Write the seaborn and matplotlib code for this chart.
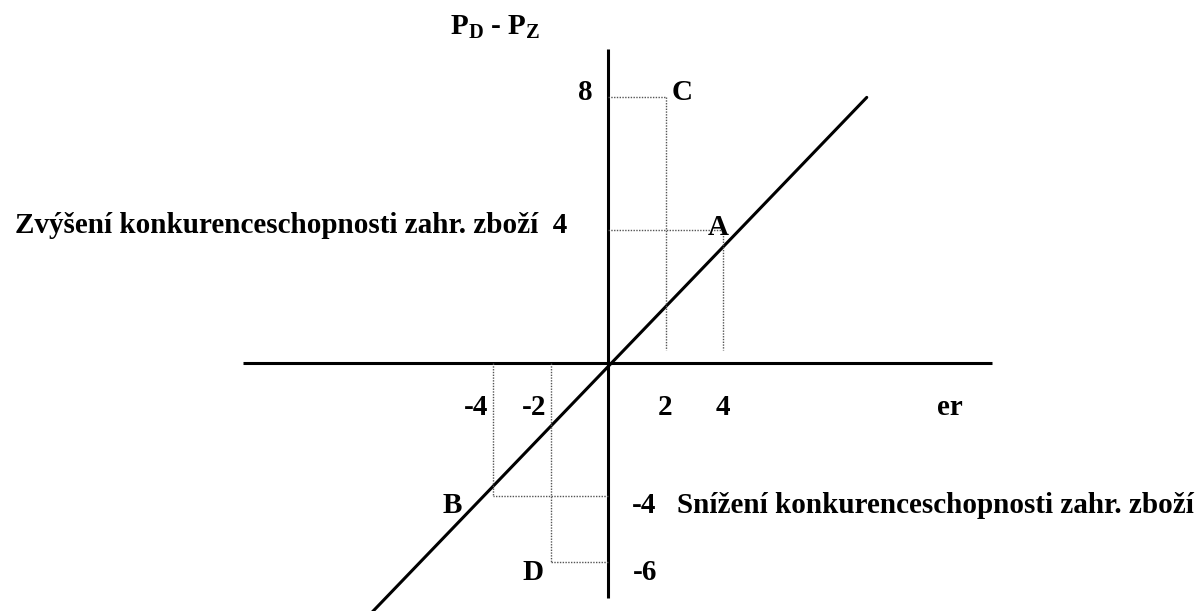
import matplotlib
matplotlib.use('Agg')
import numpy as np
import pandas as pd
import matplotlib.pyplot as plt
import seaborn as sns

sns.set_theme(style='white')
plt.rcParams['font.family'] = ['Liberation Serif', 'DejaVu Serif']
plt.rcParams['font.weight'] = 'bold'
plt.rcParams['text.color'] = 'black'
plt.rcParams['mathtext.fontset'] = 'custom'
plt.rcParams['mathtext.rm'] = 'Liberation Serif:bold'
plt.rcParams['mathtext.bf'] = 'Liberation Serif:bold'

# ============================================================
# data
# ============================================================
# main line er vs P_D - P_Z (end points)
line_er = [-8.2, 9.0]
line_p = [-7.5, 8.0]

# labelled points
point_names = ['A', 'B', 'C', 'D']
point_er = [4, -4, 2, -2]
point_p = [4, -4, 8, -6]

x_ticks = [-4, -2, 2, 4]
y_ticks = [8, 4, -4, -6]

text_up = 'Zvýšení konkurenceschopnosti zahr. zboží'
text_down = 'Snížení konkurenceschopnosti zahr. zboží'

# pixel scale of the sketch
W, H = 1202, 611
ORIGIN_PX = (608, 363)
PX_X, PX_Y = 28.75, 33.2

FS = 21
DOT = dict(color='#555555', lw=1.0, linestyle=(0, (1, 1)))

fig = plt.figure(figsize=(W / 100, H / 100), dpi=100)
ax = fig.add_axes([0, 0, 1, 1])
ax.set_xlim(-ORIGIN_PX[0] / PX_X, (W - ORIGIN_PX[0]) / PX_X)
ax.set_ylim(-(H - ORIGIN_PX[1]) / PX_Y, ORIGIN_PX[1] / PX_Y)
ax.axis('off')

# axes crossing at origin
ax.plot([-12.7, 13.36], [0, 0], color='black', lw=2.2, solid_capstyle='butt')
ax.plot([0, 0], [-7.08, 9.46], color='black', lw=2.2, solid_capstyle='butt')

# main line
df = pd.DataFrame({'er': line_er, 'p': line_p})
sns.lineplot(data=df, x='er', y='p', color='black', lw=2.2, ax=ax, legend=False)

# dotted guides to each point
for name, ex, py in zip(point_names, point_er, point_p):
    ax.plot([0, ex], [py, py], **DOT)
    if py > 0:
        ax.plot([ex, ex], [py, 0.4], **DOT)
    else:
        ax.plot([ex, ex], [0, py], **DOT)

# point letters
ax.text(3.83, 4.07, 'A', fontsize=FS, ha='center', va='center')
ax.text(-5.43, -4.28, 'B', fontsize=FS, ha='center', va='center')
ax.text(2.57, 8.16, 'C', fontsize=FS, ha='center', va='center')
ax.text(-2.61, -6.30, 'D', fontsize=FS, ha='center', va='center')

# x tick labels
for v in x_ticks:
    if v < 0:
        ax.text(v - 0.15, -1.33, str(v), fontsize=FS, ha='right', va='center')
    else:
        ax.text(v, -1.33, str(v), fontsize=FS, ha='center', va='center')
ax.text(11.9, -1.33, 'er', fontsize=FS, ha='center', va='center')

# y labels
ax.text(-0.8, 8.16, '8', fontsize=FS, ha='center', va='center')
ax.text(-1.43, 4.13, text_up + '  4', fontsize=FS, ha='right', va='center')
ax.text(0.83, -4.28, '-4', fontsize=FS, ha='left', va='center')
ax.text(2.4, -4.28, text_down, fontsize=FS, ha='left', va='center')
ax.text(0.87, -6.30, '-6', fontsize=FS, ha='left', va='center')

ax.text(-5.5, 10.12, r'P$_\mathbf{D}$ - P$_\mathbf{Z}$', fontsize=FS, ha='left', va='center')

fig.savefig('out.png', dpi=100, facecolor='white')
plt.close(fig)
